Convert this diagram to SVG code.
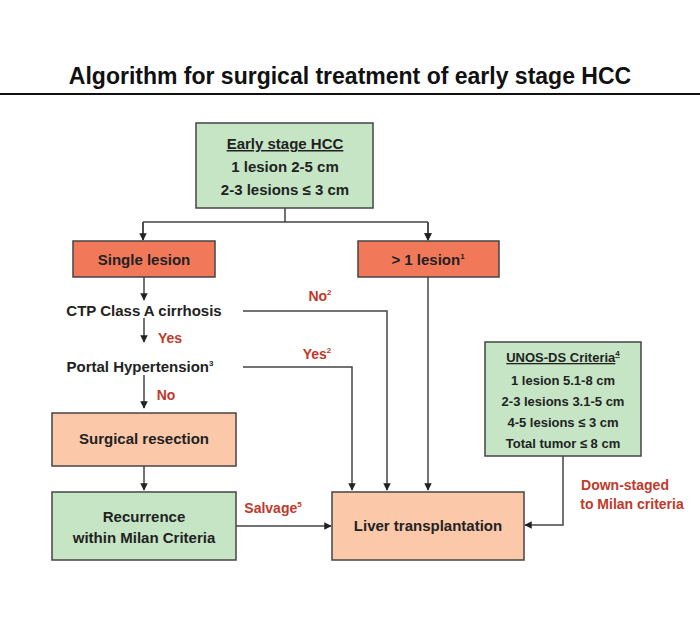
<svg xmlns="http://www.w3.org/2000/svg" width="700" height="642" viewBox="0 0 700 642">
<defs>
<marker id="ah" viewBox="0 0 10 10" refX="9" refY="5" markerWidth="5" markerHeight="5" orient="auto"><path d="M0,0L10,5L0,10z" fill="#222"/></marker>
<style>
text{font-family:"Liberation Sans",Arial,sans-serif;font-weight:bold;text-anchor:middle}
.b{font-size:15px;fill:#222}
.r{font-size:14px;fill:#c0392b}
.g{fill:#c5e5c5;stroke:#444;stroke-width:1.5}
.o{fill:#f2785a;stroke:#444;stroke-width:1.5}
.p{fill:#fbc9a9;stroke:#444;stroke-width:1.5}
.c{fill:none;stroke:#444;stroke-width:1.5}
sup{font-size:9px}
</style>
</defs>
<rect width="700" height="642" fill="#fff"/>
<text x="350" y="84" style="font-size:23px;fill:#111">Algorithm for surgical treatment of early stage HCC</text>
<line x1="0" y1="94" x2="700" y2="94" stroke="#111" stroke-width="2"/>
<g id="connectors">
<path class="c" d="M285,208V222M143,222H428M143,222V240M428,222V240" marker-end="url(#ah)"/>
<path class="c" d="M143,222V240" marker-end="url(#ah)"/>
<path class="c" d="M428,222V240" marker-end="url(#ah)"/>
<path class="c" d="M144,277V300" marker-end="url(#ah)"/>
<path class="c" d="M144,318V342" marker-end="url(#ah)"/>
<path class="c" d="M144,375V408" marker-end="url(#ah)"/>
<path class="c" d="M144,466V490" marker-end="url(#ah)"/>
<path class="c" d="M243,311H387V490" marker-end="url(#ah)"/>
<path class="c" d="M243,367H352V490" marker-end="url(#ah)"/>
<path class="c" d="M428,277V490" marker-end="url(#ah)"/>
<path class="c" d="M236,526H331" marker-end="url(#ah)"/>
<path class="c" d="M563,456V525H525" marker-end="url(#ah)"/>
<text class="r" x="320" y="301">No<tspan font-size="8" dy="-6">2</tspan></text>
<text class="r" x="317" y="359">Yes<tspan font-size="8" dy="-6">2</tspan></text>
<text class="r" x="170" y="343">Yes</text>
<text class="r" x="166" y="400">No</text>
<text class="r" x="273" y="513">Salvage<tspan font-size="8" dy="-6">5</tspan></text>
<text class="r" x="625" y="490">Down-staged</text>
<text class="r" x="632" y="509">to Milan criteria</text>
</g>
<g id="early"><rect class="g" x="196" y="123" width="177" height="85"/>
<text class="b" x="285" y="149" text-decoration="underline">Early stage HCC</text>
<text class="b" x="285" y="172">1 lesion 2-5 cm</text>
<text class="b" x="285" y="195">2-3 lesions ≤ 3 cm</text></g>
<g id="single"><rect class="o" x="73" y="241" width="142" height="36"/><text class="b" x="144" y="265">Single lesion</text></g>
<g id="multi"><rect class="o" x="358" y="241" width="141" height="36"/><text class="b" x="428" y="265">&gt; 1 lesion<tspan font-size="8" dy="-6">1</tspan></text></g>
<g id="ctp"><text class="b" x="144" y="316">CTP Class A cirrhosis</text></g>
<g id="portal"><text class="b" x="140" y="372">Portal Hypertension<tspan font-size="8" dy="-6">3</tspan></text></g>
<g id="resection"><rect class="p" x="52" y="413" width="184" height="53"/><text class="b" x="144" y="444">Surgical resection</text></g>
<g id="recurrence"><rect class="g" x="52" y="492" width="184" height="68"/><text class="b" x="144" y="522">Recurrence</text><text class="b" x="144" y="543">within Milan Criteria</text></g>
<g id="lt"><rect class="p" x="332" y="492" width="192" height="68"/><text class="b" x="428" y="531">Liver transplantation</text></g>
<g id="unos"><rect class="g" x="485" y="342" width="156" height="114"/>
<text class="b" x="563" y="362" style="font-size:13px" text-decoration="underline">UNOS-DS Criteria<tspan font-size="8" dy="-6">4</tspan></text>
<text class="b" x="563" y="385" style="font-size:13px">1 lesion 5.1-8 cm</text>
<text class="b" x="563" y="406" style="font-size:13px">2-3 lesions 3.1-5 cm</text>
<text class="b" x="563" y="427" style="font-size:13px">4-5 lesions ≤ 3 cm</text>
<text class="b" x="563" y="448" style="font-size:13px">Total tumor ≤ 8 cm</text></g>
</svg>
